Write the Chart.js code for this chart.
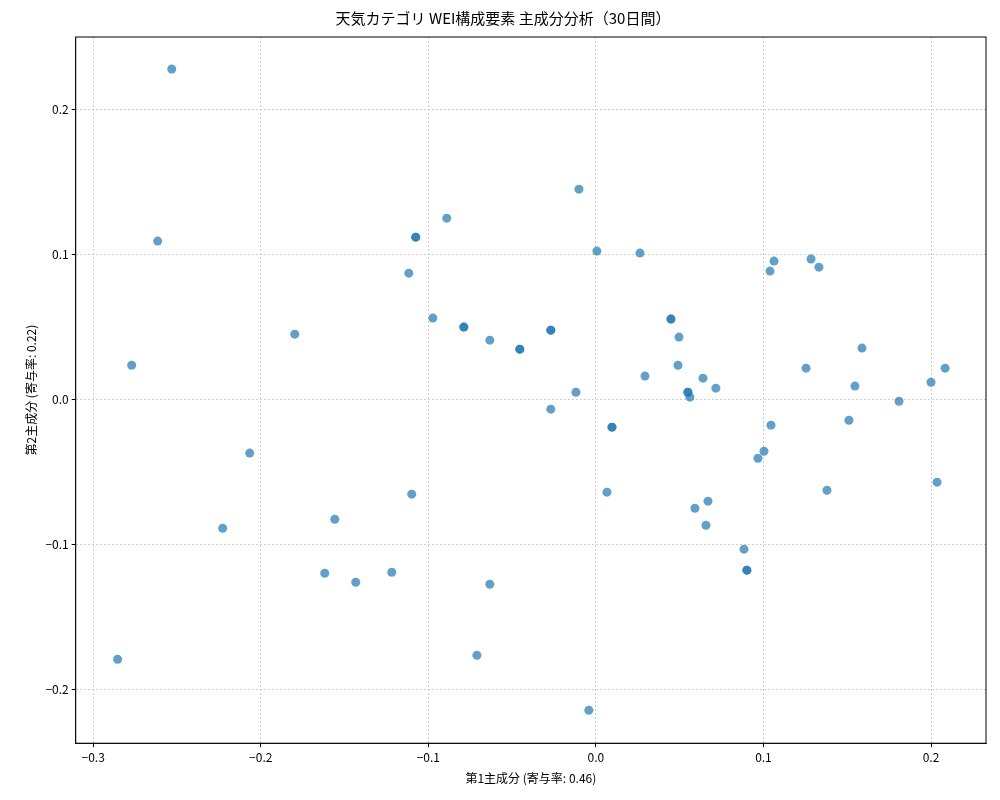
<!DOCTYPE html><html><head><meta charset="utf-8">
<script src="https://cdn.jsdelivr.net/npm/chart.js"></script>
<style>body{margin:0;background:#fff}#w{width:1000px;height:800px}</style></head><body><div id="w"><canvas id="c"></canvas></div>
<script>
const pc1=[-0.2531,-0.2615,-0.277,-0.2854,-0.1797,-0.2066,-0.2227,-0.1618,-0.1558,-0.1433,-0.1218,-0.1099,-0.1116,-0.1075,-0.1075,-0.089,-0.0973,-0.0788,-0.0788,-0.0633,-0.0633,-0.071,-0.0454,-0.0454,-0.0269,-0.0269,-0.0269,-0.0119,-0.0101,-0.0042,0.0006,0.0066,0.0096,0.0096,0.0263,0.0293,0.0448,0.0448,0.0496,0.049,0.0549,0.0549,0.0561,0.0639,0.0716,0.0591,0.0669,0.0657,0.0884,0.0901,0.0901,0.0967,0.1003,0.1045,0.1039,0.1063,0.1284,0.1331,0.1254,0.1379,0.151,0.1546,0.1588,0.1809,0.2,0.2036,0.2084];
const pc2=[0.2276,0.109,0.0234,-0.1793,0.0448,-0.0372,-0.089,-0.12,-0.0828,-0.1262,-0.1193,-0.0655,0.0869,0.1117,0.1117,0.1248,0.0559,0.0497,0.0497,0.0407,-0.1276,-0.1766,0.0345,0.0345,0.0476,0.0476,-0.0069,0.0048,0.1448,-0.2145,0.1021,-0.0641,-0.0193,-0.0193,0.1007,0.0159,0.0552,0.0552,0.0428,0.0234,0.0048,0.0048,0.0014,0.0145,0.0076,-0.0752,-0.0703,-0.0869,-0.1034,-0.1179,-0.1179,-0.0407,-0.0359,-0.0179,0.0883,0.0952,0.0966,0.091,0.0214,-0.0628,-0.0145,0.009,0.0352,-0.0014,0.0117,-0.0572,0.0214];
const F='"Noto Sans CJK JP", "DejaVu Sans", sans-serif';
Chart.defaults.font.family=F;Chart.defaults.color='#000';
const fmt=v=>{const r=Math.round(v*10)/10;return r===0?'0.0':(r<0?'−'+(-r).toFixed(1):r.toFixed(1));};
const grid={color:'#cccccc',drawTicks:true,tickColor:'#000',tickLength:4,tickBorderDash:[0]};
const border={color:'#000',dash:[2,2],width:0.8};
const box={id:'box',afterDraw(c){const a=c.chartArea,x=c.ctx;x.save();x.strokeStyle='#000';x.lineWidth=1;x.setLineDash([]);x.strokeRect(a.left,a.top,a.right-a.left,a.bottom-a.top);x.restore();}};
new Chart(document.getElementById('c'),{type:'scatter',plugins:[box],
data:{datasets:[{data:pc1.map((x,i)=>({x,y:pc2[i]})),backgroundColor:'rgba(31,119,180,0.7)',borderColor:'rgba(31,119,180,0.7)',borderWidth:0,pointRadius:4.5}]},
options:{responsive:true,maintainAspectRatio:false,animation:false,
layout:{padding:{left:20,right:14,top:3,bottom:10}},
plugins:{legend:{display:false},tooltip:{enabled:false},
title:{display:true,text:'天気カテゴリ WEI構成要素 主成分分析（30日間）',font:{size:15,weight:'normal'},padding:{top:6,bottom:10}}},
scales:{x:{min:-0.3104,max:0.2328,border,grid,ticks:{font:{size:12},callback:fmt},afterBuildTicks:a=>{a.ticks=[-0.3,-0.2,-0.1,0,0.1,0.2].map(v=>({value:v}));},
title:{display:true,text:'第1主成分 (寄与率: 0.46)',font:{size:12}}},
y:{min:-0.2372,max:0.2497,border,grid,ticks:{font:{size:12},callback:fmt},afterBuildTicks:a=>{a.ticks=[-0.2,-0.1,0,0.1,0.2].map(v=>({value:v}));},
title:{display:true,text:'第2主成分 (寄与率: 0.22)',font:{size:12}}}}}});
</script></body></html>
